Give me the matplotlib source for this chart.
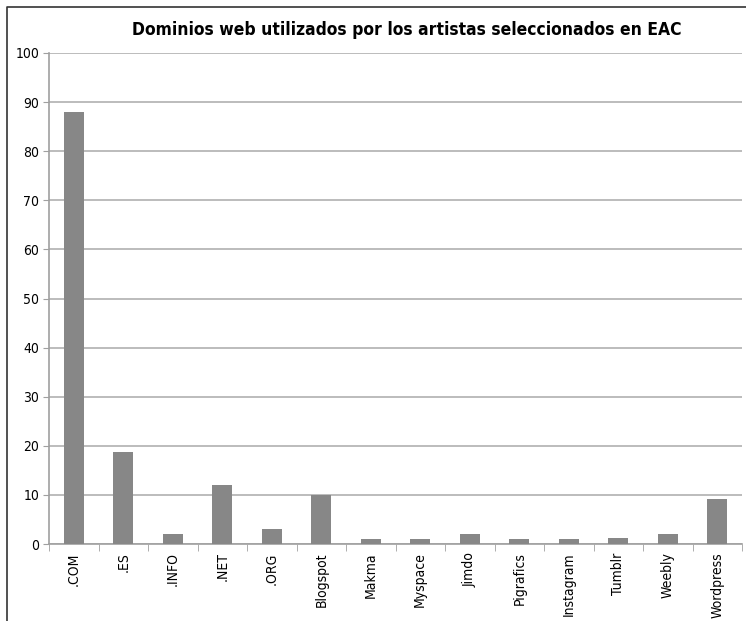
import matplotlib.pyplot as plt
from matplotlib.lines import Line2D

dominios = ['.COM', '.ES', '.INFO', '.NET', '.ORG', 'Blogspot', 'Makma', 'Myspace',
            'Jimdo', 'Pigrafics', 'Instagram', 'Tumblr', 'Weebly', 'Wordpress']
valores = [88, 18.7, 2, 12, 3, 10, 1, 1, 2, 1, 1, 1.2, 2, 9.2]

plt.rcParams['font.family'] = ['DejaVu Sans']
plt.rcParams['font.stretch'] = 'condensed'

fig = plt.figure(figsize=(7.46, 6.21), dpi=100)
ax = fig.add_axes([49 / 746, 77 / 621, 693 / 746, 491 / 621])

x = range(len(dominios))
ax.bar(x, valores, width=0.4, color='#878787', zorder=3)

ax.set_xlim(-0.5, len(dominios) - 0.5)
ax.set_ylim(0, 100)
ax.set_yticks(range(0, 101, 10))
ax.set_xticks(list(x))
ax.set_xticklabels(dominios, rotation=90, fontsize=10)
ax.tick_params(axis='y', labelsize=10, length=4, color='#a0a0a0', pad=3)
ax.tick_params(axis='x', length=0, pad=6)
# marcas entre categorias
ax.set_xticks([i + 0.5 for i in range(-1, len(dominios))], minor=True)
ax.tick_params(axis='x', which='minor', length=5, color='#a0a0a0')

ax.grid(axis='y', color='#b0b0b0', linewidth=1.2, zorder=0)
for s in ['top', 'right']:
    ax.spines[s].set_visible(False)
for s in ['left', 'bottom']:
    ax.spines[s].set_color('#a0a0a0')
    ax.spines[s].set_linewidth(1.2)

fig.text(0.545, 0.952, 'Dominios web utilizados por los artistas seleccionados en EAC',
         ha='center', va='center', fontsize=12.5, fontweight='bold')

# marco del grafico (izquierda y arriba)
fx = 7 / 746
fy = 1 - 7 / 621
fig.add_artist(Line2D([fx, fx, 1], [0, fy, fy], transform=fig.transFigure,
                      color='#333333', linewidth=1.2))

fig.savefig('out.png', dpi=100)
